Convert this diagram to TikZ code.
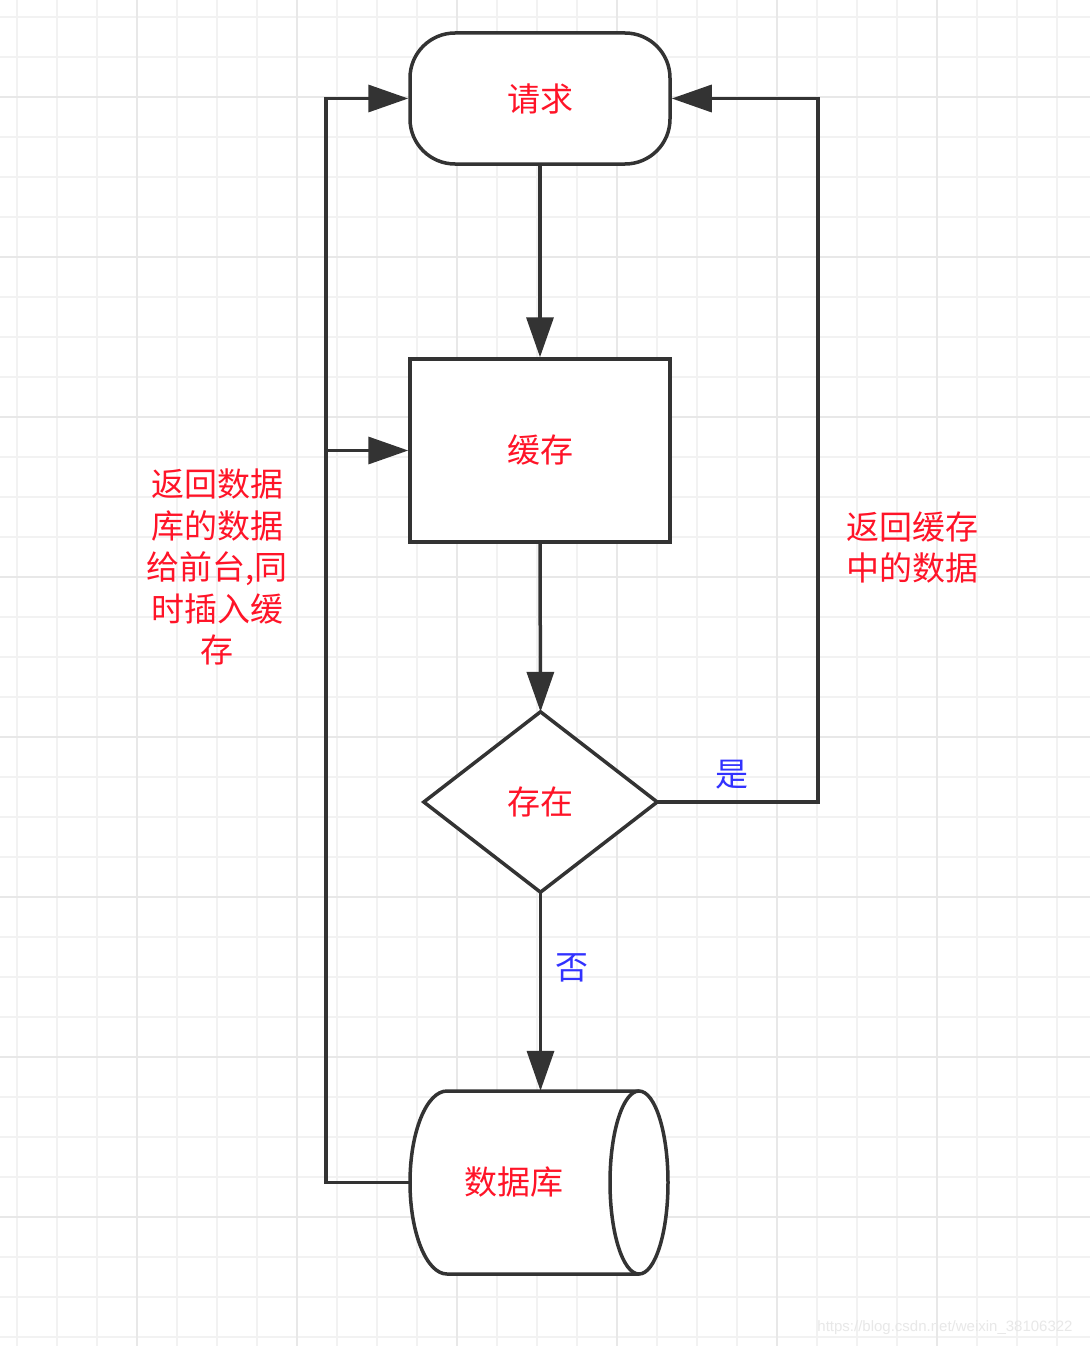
\documentclass[tikz,border=0pt]{standalone}
\usepackage{fontspec}
\setmainfont{Liberation Sans}
\newfontfamily\cjk{Noto Sans CJK SC}
\usetikzlibrary{arrows.meta,calc}
\definecolor{ln}{HTML}{333333}
\definecolor{txtred}{RGB}{255,20,40}
\definecolor{txtblue}{RGB}{50,50,255}
\definecolor{gridminor}{HTML}{F2F2F2}
\definecolor{gridmajor}{HTML}{E8E8E8}
\begin{document}
\begin{tikzpicture}[x=1pt,y=-1pt,
  minorgrid/.style={gridminor,line width=1.2pt},
  majorgrid/.style={gridmajor,line width=1.5pt},
  shapebox/.style={draw=ln,line width=3.5pt,fill=white,inner sep=0pt,
    font=\cjk\fontsize{33}{38}\selectfont,text=txtred},
  ghost/.style={inner sep=0pt},
  conn/.style={draw=ln,line width=3.5pt,-{Triangle[length=40pt,width=27pt]}},
  plain/.style={draw=ln,line width=3.5pt},
  redtext/.style={font=\cjk\fontsize{33}{41.5}\selectfont,text=txtred,align=center,inner sep=0pt},
  bluetext/.style={font=\cjk\fontsize{33}{38}\selectfont,text=txtblue,inner sep=0pt}
]
\useasboundingbox (0,0) rectangle (1090,1346);
\fill[white] (0,0) rectangle (1090,1346);
% grid
\foreach \g in {17,57,...,1090} {
  \draw[minorgrid] (\g,0) -- (\g,1346);
}
\foreach \g in {17,57,...,1346} {
  \draw[minorgrid] (0,\g) -- (1090,\g);
}
\foreach \g in {137,297,...,1090} {
  \draw[majorgrid] (\g,0) -- (\g,1346);
}
\foreach \g in {97,257,...,1346} {
  \draw[majorgrid] (0,\g) -- (1090,\g);
}
% watermark
\node[text=gray!18,font=\fontsize{15}{18}\selectfont,inner sep=0pt] (wm) at (945,1328) {https://blog.csdn.net/weixin\_38106322};

% nodes
\node[shapebox,rounded corners=45pt,minimum width=260pt,minimum height=131pt] (req) at (540,98.5) {请求};
\node[shapebox,minimum width=260pt,minimum height=183pt] (cache) at (540,450.5) {缓存};
\node[ghost,minimum width=233pt,minimum height=180pt] (dec) at (540.5,802) {};
\draw[plain,fill=white,line join=miter] (dec.north) -- (dec.east) -- (dec.south) -- (dec.west) -- cycle;
\node[redtext] (dectext) at (540,802) {存在};
\node[ghost,minimum width=258pt,minimum height=183pt] (db) at (539,1182.5) {};
\fill[white] (639,1091) -- (447,1091) .. controls (426.6,1091) and (410,1132) .. (410,1182.5)
   .. controls (410,1233) and (426.6,1274) .. (447,1274) -- (639,1274) -- cycle;
\fill[white] (639,1182.5) ellipse [x radius=29pt, y radius=91.5pt];
\draw[plain] (639,1091) -- (447,1091) .. controls (426.6,1091) and (410,1132) .. (410,1182.5)
   .. controls (410,1233) and (426.6,1274) .. (447,1274) -- (639,1274);
\draw[plain] (639,1182.5) ellipse [x radius=29pt, y radius=91.5pt];
\node[redtext] (dbtext) at (514,1182) {数据库};

% connectors
\draw[conn] (req.south) -- (cache.north);
\draw[conn] (cache.south) -- (dec.north);
\draw[conn] (dec.south) -- (db.north -| dec.south);
\coordinate (rc) at (818,802);
\draw[conn] (dec.east) -- (rc) |- (req.east);
\coordinate (lc) at (326,1182.5);
\draw[conn] (db.west) -- (lc) |- (req.west);
\coordinate (lm) at (327.5,450.5);
\draw[conn] (lm) -- (cache.west);

% labels
\node[bluetext] (yes) at (732,775) {是};
\node[bluetext] (no) at (572,968) {否};
\node[redtext] (ltext) at (217,567) {返回数据\\库的数据\\给前台,同\\时插入缓\\存};
\node[redtext] (rtext) at (912,547.5) {返回缓存\\中的数据};
\end{tikzpicture}
\end{document}
